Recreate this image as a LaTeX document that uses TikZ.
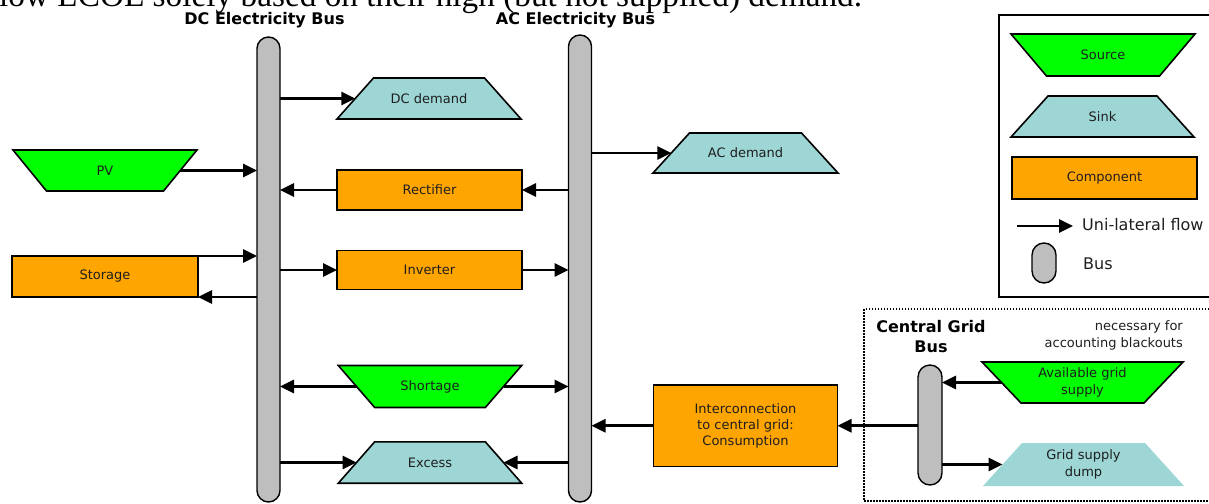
\documentclass[tikz,border=0pt]{standalone}
\usepackage{fontspec}
\setmainfont{DejaVu Sans}
\newfontfamily\serifx{Liberation Serif}
\usetikzlibrary{arrows.meta}
\definecolor{srcg}{RGB}{0,255,0}
\definecolor{snkc}{RGB}{158,214,214}
\definecolor{cmpo}{RGB}{255,165,0}
\definecolor{busg}{RGB}{190,190,190}
\definecolor{txt}{RGB}{30,30,30}
\tikzset{
 lbl/.style={font=\fontsize{13}{16.3}\selectfont, text=txt, inner sep=0, align=center},
 bigtxt/.style={font=\fontsize{16}{19}\selectfont, text=txt, inner sep=0},
 ttl/.style={font=\bfseries\fontsize{16}{20}\selectfont, inner sep=0, align=center},
 srcshape/.style={draw=black, line width=1.6pt, fill=srcg},
 snkshape/.style={draw=black, line width=1.6pt, fill=snkc},
 dumpshape/.style={fill=snkc},
 cmp/.style={draw=black, line width=1.8pt, fill=cmpo, inner sep=0, outer sep=0, font=\fontsize{13}{16.3}\selectfont, text=txt, align=center},
 bus/.style={draw=black, line width=1.4pt, fill=busg, rounded corners=11.5pt, inner sep=0, outer sep=0, minimum width=23pt},
 flow/.style={line width=2.7pt, -{Triangle[length=14pt,width=13pt]}},
}
% style, name, cx, cy, top half width, bottom half width, half height, text
\newcommand\trapz[8]{%
  \path[#1] ({#3-#5},{#4-#7}) -- ({#3+#5},{#4-#7}) -- ({#3+#6},{#4+#7}) -- ({#3-#6},{#4+#7}) -- cycle;
  \node[lbl] (#2) at (#3,#4) {#8};
  \coordinate (#2-w) at ({#3-(#5+#6)/2},#4);
  \coordinate (#2-e) at ({#3+(#5+#6)/2},#4);
}
\begin{document}
\begin{tikzpicture}[x=1pt,y=-1pt]
\useasboundingbox (0,0) rectangle (1209,503);
% top text (cut off)
\node[anchor=base west, inner sep=0, font=\serifx\fontsize{33.3}{40}\selectfont] (toptext) at (-1,6.5) {low LCOE solely based on their high (but not supplied) demand.};
% titles
\node[ttl] (dctitle) at (264.5,20.5) {DC Electricity Bus};
\node[ttl] (actitle) at (575.5,20.5) {AC Electricity Bus};
% buses
\node[bus, minimum height=465pt] (dcbus) at (268.5,269.5) {};
\node[bus, minimum height=467pt] (acbus) at (580,268.5) {};
% shapes
\trapz{snkshape}{dcdem}{429}{98.5}{55.5}{92}{20.5}{DC demand}
\trapz{snkshape}{acdem}{745.5}{153}{56}{92.5}{20}{AC demand}
\trapz{srcshape}{pv}{105}{170.5}{92}{58.5}{20.5}{PV}
\trapz{srcshape}{short}{430}{386.5}{91.7}{55.3}{21}{Shortage}
\trapz{snkshape}{exc}{430}{462.5}{55.3}{91.7}{20.7}{Excess}
\node[cmp, minimum width=185pt, minimum height=40pt] (rect) at (429.5,190) {Rectifier};
\node[cmp, minimum width=185pt, minimum height=39pt] (inv) at (429.5,270) {Inverter};
\node[cmp, minimum width=186pt, minimum height=41pt] (stor) at (105,276.5) {Storage};
\node[cmp, minimum width=184pt, minimum height=81.5pt] (ic) at (745.5,425.75) {Interconnection\\to central grid:\\Consumption};
% central grid area
\draw[line width=2pt, dash pattern=on 1.5pt off 1.5pt] (864,309) rectangle (1215,501);
\node[ttl] (cgtitle) at (931,337) {Central Grid\\Bus};
\node[lbl, align=right, anchor=east, font=\fontsize{13}{17}\selectfont] (note) at (1183,335) {necessary for\\accounting blackouts};
\node[bus, minimum width=24pt, minimum height=120pt, rounded corners=12pt] (gbus) at (930,425) {};
\trapz{srcshape}{avail}{1082.5}{382.5}{100.5}{61.5}{20.5}{Available grid\\supply}
\trapz{dumpshape}{dump}{1083.5}{464.5}{61.5}{100.5}{21.5}{Grid supply\\dump}
% connectors
\draw[flow] (dcbus.east |- dcdem-w) -- (dcdem-w);
\draw[flow] (acbus.east |- acdem-w) -- (acdem-w);
\draw[flow] (pv-e) -- (pv-e -| dcbus.west);
\draw[flow] (rect.west) -- (rect.west -| dcbus.east);
\draw[flow] (acbus.west |- rect.east) -- (rect.east);
\draw[flow] (stor.north east) -- (stor.north east -| dcbus.west);
\draw[flow] (dcbus.west |- stor.south east) -- (stor.south east);
\draw[flow] (dcbus.east |- inv.west) -- (inv.west);
\draw[flow] (inv.east) -- (inv.east -| acbus.west);
\draw[flow] (short-w) -- (short-w -| dcbus.east);
\draw[flow] (short-e) -- (short-e -| acbus.west);
\draw[flow] (dcbus.east |- exc-w) -- (exc-w);
\draw[flow] (acbus.west |- exc-e) -- (exc-e);
\draw[flow] (ic.west) -- (ic.west -| acbus.east);
\draw[flow] (gbus.west |- ic.east) -- (ic.east);
\draw[flow] (avail-w) -- (avail-w -| gbus.east);
\draw[flow] (gbus.east |- dump-w) -- (dump-w);
% legend
\draw[line width=1.6pt] (999,15) rectangle (1215,297);
\trapz{srcshape}{lgsrc}{1103}{55}{92}{56.5}{21}{Source}
\trapz{snkshape}{lgsnk}{1102.5}{116.5}{54.5}{91.5}{20.5}{Sink}
\node[cmp, minimum width=185pt, minimum height=42pt] (lgcmp) at (1104.5,178) {Component};
\coordinate (lgA) at (1017,226);
\coordinate (lgB) at (1073,226);
\draw[flow] (lgA) -- (lgB);
\node[bigtxt, anchor=west] (lgflow) at (1082,225) {Uni-lateral flow};
\node[bus, minimum width=24pt, minimum height=40pt, rounded corners=12pt] (lgbus) at (1044,263) {};
\node[bigtxt, anchor=west] (lgbustxt) at (1083,264) {Bus};
\end{tikzpicture}
\end{document}
